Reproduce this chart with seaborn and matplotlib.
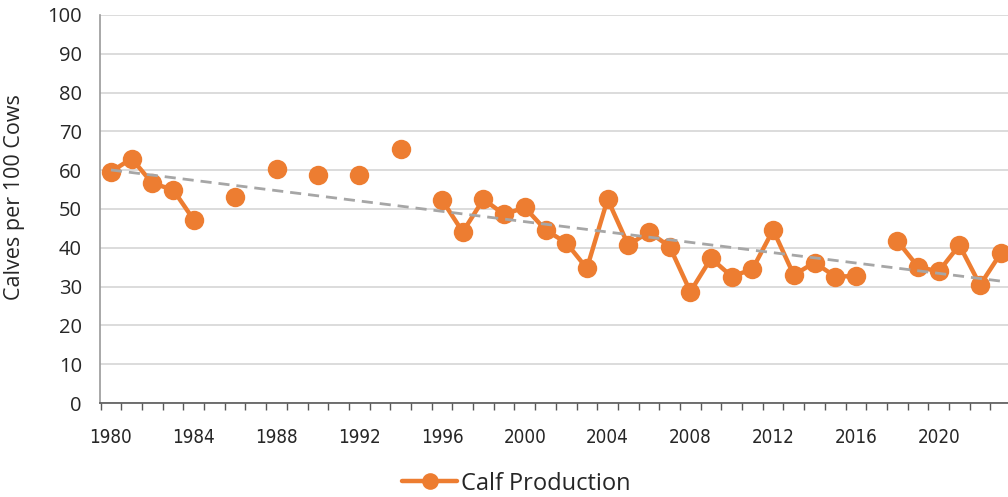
import numpy as np
import pandas as pd
import seaborn as sns
import matplotlib
matplotlib.use("Agg")
import matplotlib.pyplot as plt
from matplotlib.lines import Line2D
from matplotlib.ticker import FixedLocator

nan = np.nan
years = list(range(1980, 2024))
calves = [59.6, 63.0, 56.6, 55.0, 47.2, nan, 53.2, nan, 60.2, nan,
          58.8, nan, 58.8, nan, 65.5, nan,
          52.3, 44.1, 52.5, 48.6, 50.4, 44.6, 41.3, 34.7, 52.5, 40.7,
          44.1, 40.3, 28.7, 37.3, 32.6, 34.5, 44.6, 33.0, 36.2, 32.6, 32.7,
          nan,
          41.8, 35.1, 33.9, 40.7, 30.4, 38.6]
series_label = "Calf Production"
y_label = "Calves per 100 Cows"
x_tick_years = list(range(1980, 2021, 4))
y_ticks = list(range(0, 101, 10))

ORANGE = "#ED7D31"
TREND = "#A6A6A6"
TEXT = "#262626"

sns.set_theme(style="white")
plt.rcParams["font.family"] = ["Open Sans", "DejaVu Sans"]

df = pd.DataFrame({"year": years, "value": calves})
df["seg"] = df["value"].isna().cumsum()
df = df.dropna()

fig = plt.figure(figsize=(10.08, 4.97), dpi=100)
ax = fig.add_axes([0.0992, 0.189, 0.9008, 0.781])

# trend line (least squares fit of the data)
coef = np.polyfit(df["year"], df["value"], 1)
tr = pd.DataFrame({"year": [1980, 2023]})
tr["value"] = np.polyval(coef, tr["year"])
sns.lineplot(data=tr, x="year", y="value", ax=ax, color=TREND, lw=2.0,
             linestyle=(0, (4, 2.5)), zorder=3)

sns.lineplot(data=df, x="year", y="value", units="seg", estimator=None,
             ax=ax, color=ORANGE, lw=3.2, marker="o", markersize=14,
             markeredgewidth=0, zorder=2)

ax.set_xlim(1979.47, 2023.35)
ax.set_ylim(0, 100)
ax.set_yticks(y_ticks)
ax.set_xticks(x_tick_years)
ax.xaxis.set_minor_locator(FixedLocator(np.arange(1979.5, 2024, 1.0)))
ax.tick_params(axis="x", which="major", length=0, pad=18, labelsize=13.5,
               labelcolor=TEXT)
ax.tick_params(axis="x", which="minor", length=5, width=1.0, color="#595959",
               direction="out", bottom=True)
ax.tick_params(axis="y", length=0, pad=13, labelsize=14.5, labelcolor=TEXT)
for lab in ax.get_xticklabels():
    lab.set_family(["DejaVu Sans"])
    lab.set_fontstretch("condensed")

ax.grid(axis="y", color="#D9D9D9", lw=1.3)
ax.set_axisbelow(True)
ax.spines["top"].set_visible(False)
ax.spines["right"].set_visible(False)
ax.spines["left"].set_color("#9A9A9A")
ax.spines["left"].set_linewidth(1.2)
ax.spines["bottom"].set_color("#595959")
ax.spines["bottom"].set_linewidth(1.2)

ax.set_xlabel("")
ax.set_ylabel(y_label, fontsize=15.5, color=TEXT, labelpad=10)
ax.yaxis.set_label_coords(-0.083, 0.53)

handle = Line2D([], [], color=ORANGE, lw=3.2, marker="o", markersize=12,
                markeredgewidth=0)
fig.legend([handle], [series_label], loc="center", bbox_to_anchor=(0.512, 0.027),
           frameon=False, fontsize=17, handlelength=2.35, handletextpad=0.15,
           borderpad=0, borderaxespad=0)

fig.savefig("out.png", dpi=100)
